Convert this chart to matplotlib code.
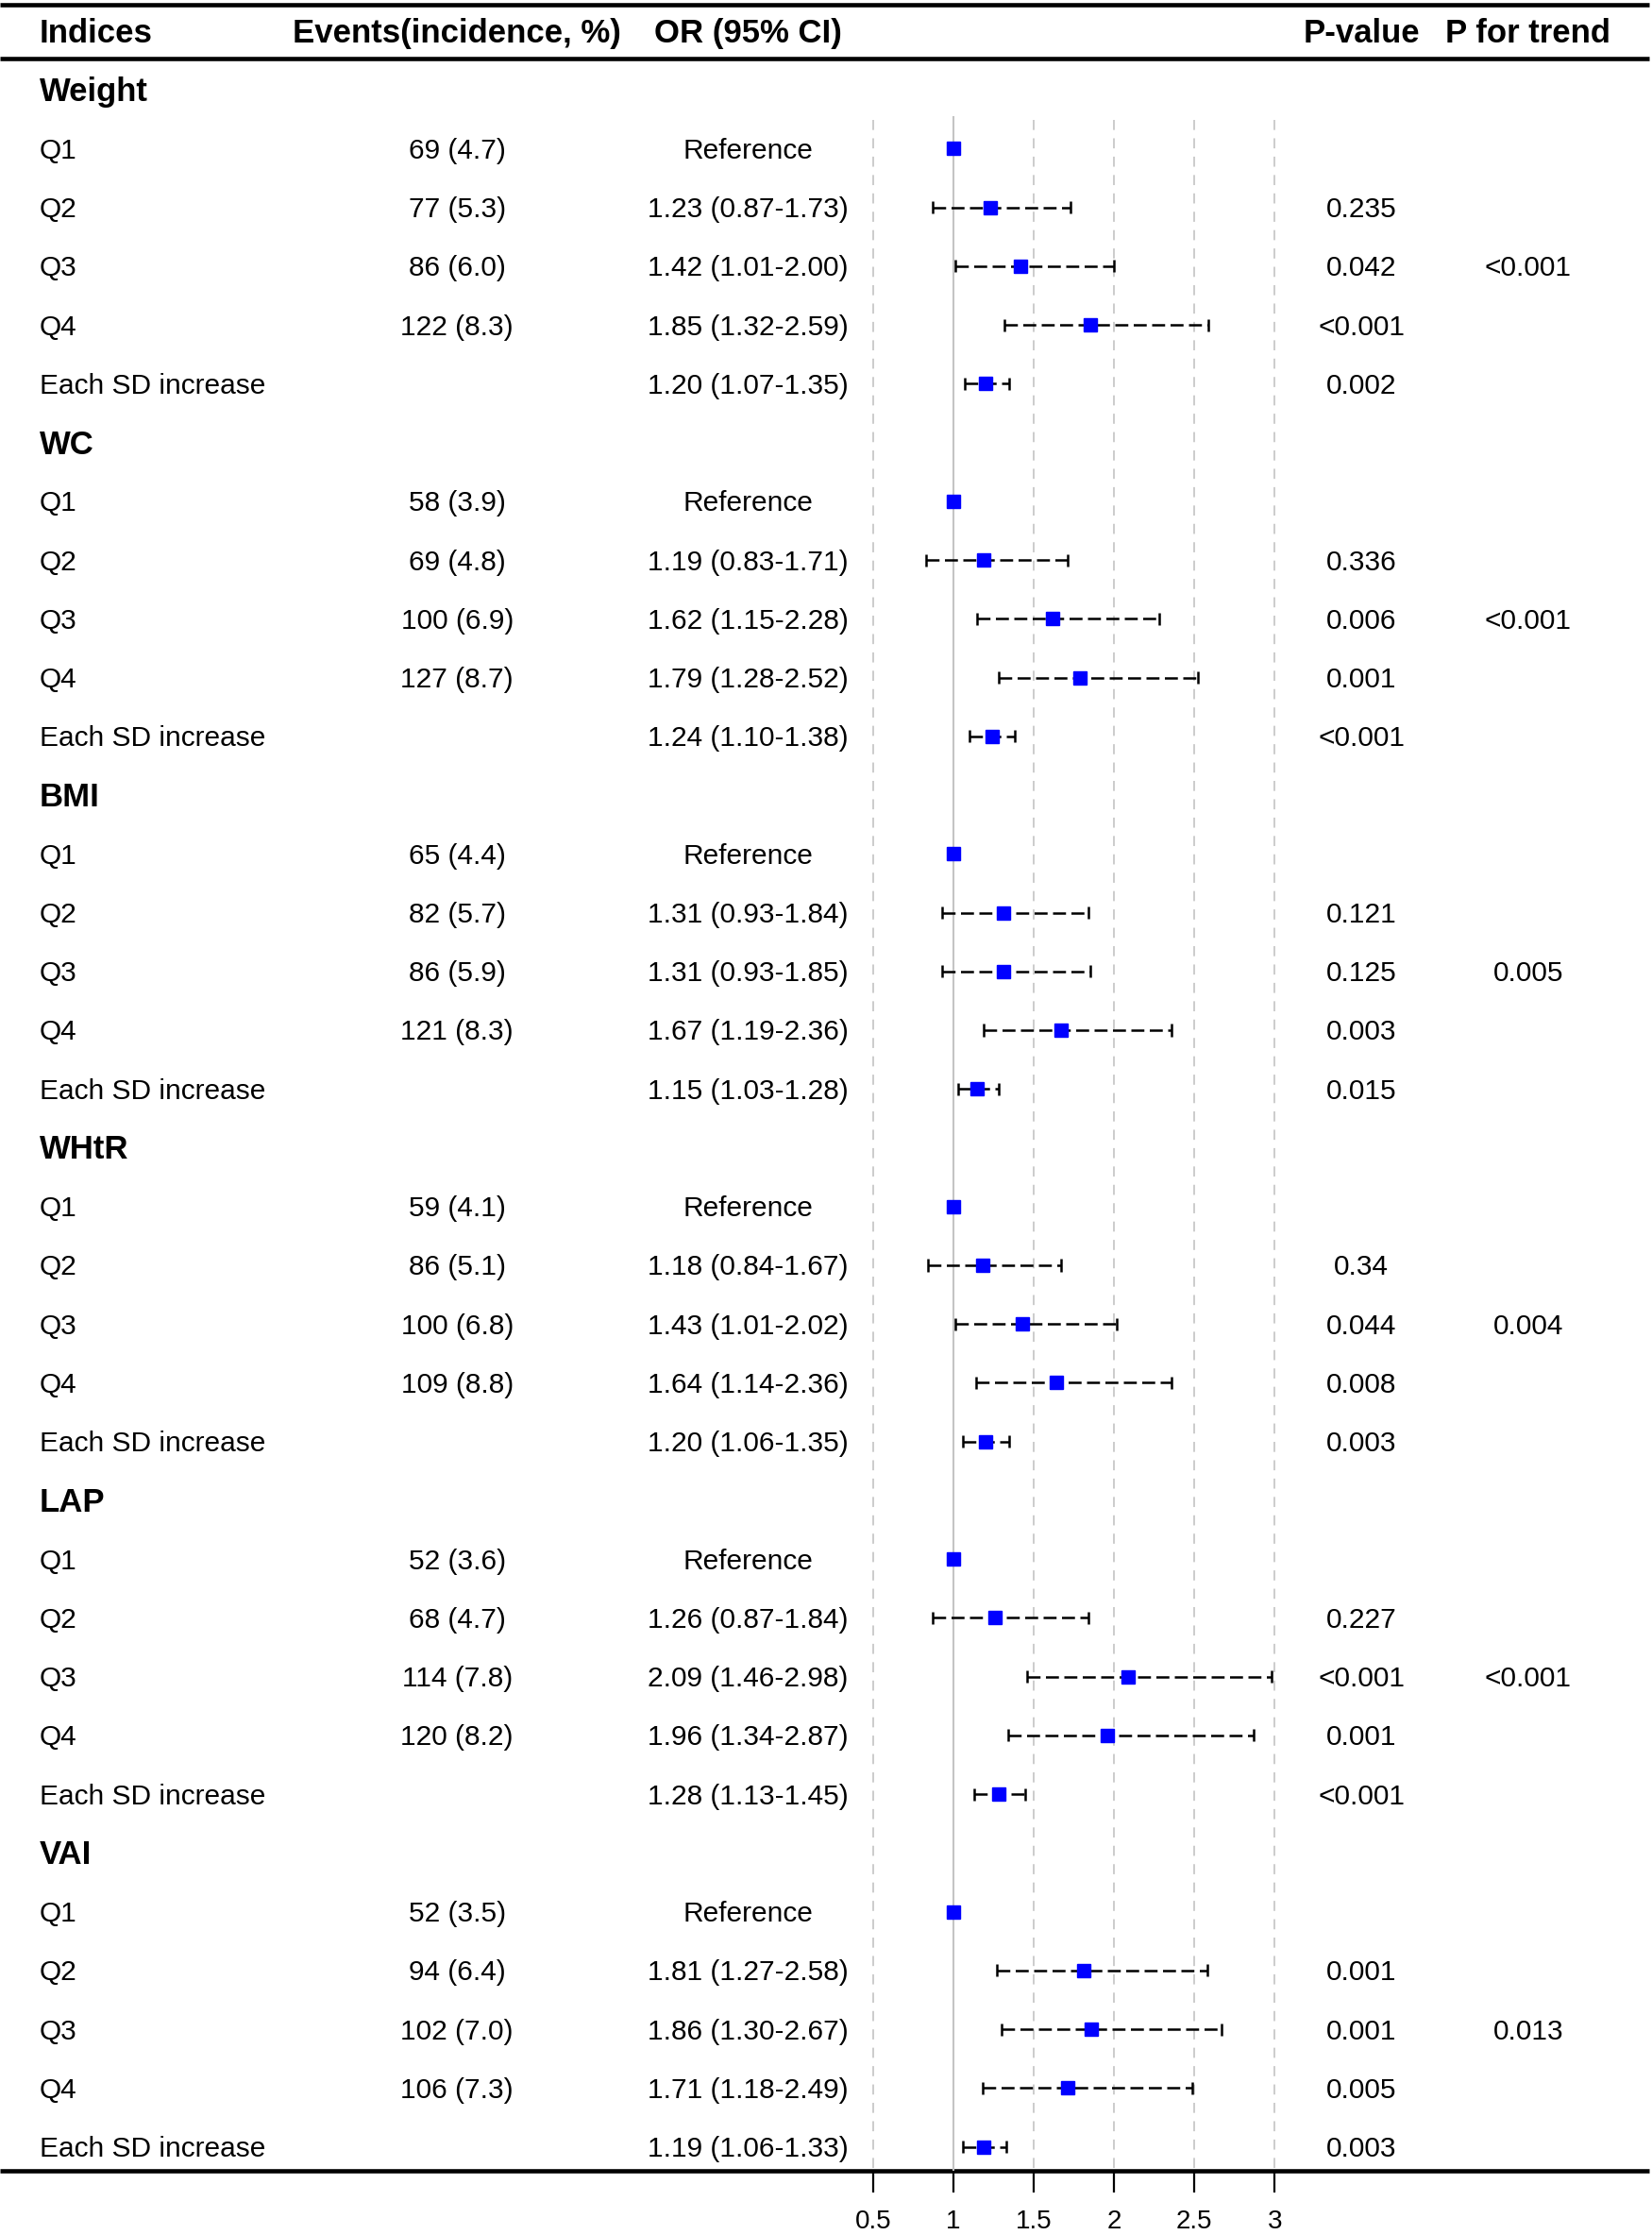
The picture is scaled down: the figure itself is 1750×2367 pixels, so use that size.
import matplotlib
matplotlib.use('Agg')

import matplotlib.pyplot as plt
import numpy as np

plt.rcParams['font.family'] = ['Liberation Sans', 'DejaVu Sans']

# datos de la tabla
indices = ['Weight', 'WC', 'BMI', 'WHtR', 'LAP', 'VAI']
niveles = ['Q1', 'Q2', 'Q3', 'Q4', 'Each SD increase']

eventos = [[69, 77, 86, 122], [58, 69, 100, 127], [65, 82, 86, 121],
           [59, 86, 100, 109], [52, 68, 114, 120], [52, 94, 102, 106]]
incidencia = [[4.7, 5.3, 6.0, 8.3], [3.9, 4.8, 6.9, 8.7], [4.4, 5.7, 5.9, 8.3],
              [4.1, 5.1, 6.8, 8.8], [3.6, 4.7, 7.8, 8.2], [3.5, 6.4, 7.0, 7.3]]

# OR para Q2, Q3, Q4 y cada SD (Q1 = referencia)
or_est = [[1.23, 1.42, 1.85, 1.20], [1.19, 1.62, 1.79, 1.24], [1.31, 1.31, 1.67, 1.15],
          [1.18, 1.43, 1.64, 1.20], [1.26, 2.09, 1.96, 1.28], [1.81, 1.86, 1.71, 1.19]]
or_lo = [[0.87, 1.01, 1.32, 1.07], [0.83, 1.15, 1.28, 1.10], [0.93, 0.93, 1.19, 1.03],
         [0.84, 1.01, 1.14, 1.06], [0.87, 1.46, 1.34, 1.13], [1.27, 1.30, 1.18, 1.06]]
or_hi = [[1.73, 2.00, 2.59, 1.35], [1.71, 2.28, 2.52, 1.38], [1.84, 1.85, 2.36, 1.28],
         [1.67, 2.02, 2.36, 1.35], [1.84, 2.98, 2.87, 1.45], [2.58, 2.67, 2.49, 1.33]]
p_valor = [['0.235', '0.042', '<0.001', '0.002'], ['0.336', '0.006', '0.001', '<0.001'],
           ['0.121', '0.125', '0.003', '0.015'], ['0.34', '0.044', '0.008', '0.003'],
           ['0.227', '<0.001', '0.001', '<0.001'], ['0.001', '0.001', '0.005', '0.003']]
p_tendencia = ['<0.001', '<0.001', '0.005', '0.004', '<0.001', '0.013']

ticks_x = [0.5, 1, 1.5, 2, 2.5, 3]

# posiciones de columnas (fracción del ancho)
x_ind = 0.024
x_evt = 0.2767
x_or = 0.4526
x_p = 0.824
x_tr = 0.925

fs = 21.5
fs_b = 25
dy = 0.04  # pequeño ajuste vertical del texto

fig = plt.figure(figsize=(17.5, 23.67), dpi=100)
tab = fig.add_axes([0, 0, 1, 1])
tab.set_xlim(0, 1)
y_top, y_bot = -1.528, 36.5
tab.set_ylim(y_bot, y_top)
tab.axis('off')

fst = fig.add_axes([590 / 1160, 0, 320 / 1160, 1])
fst.set_xlim(0.296, 3.133)
fst.set_ylim(y_bot, y_top)
fst.axis('off')

n_filas = len(indices) * (len(niveles) + 1)
y_final = n_filas - 1 + 0.41

# encabezado
for x, txt in [(x_evt, 'Events(incidence, %)'), (x_or, 'OR (95% CI)'),
               (x_p, 'P-value'), (x_tr, 'P for trend')]:
    tab.text(x, -1 + dy, txt, fontsize=fs_b, fontweight='bold', va='center', ha='center')
tab.text(x_ind, -1 + dy, 'Indices', fontsize=fs_b, fontweight='bold', va='center', ha='left')

tab.hlines([-1.455, -0.534, y_final], 0, 0.998, color='black', lw=3.3)

# líneas guía
for t in ticks_x:
    if t == 1:
        fst.vlines(t, 0.45, y_final, color='#c4c4c4', lw=1.5)
    else:
        fst.vlines(t, 0.51, y_final, color='#cccccc', lw=1.4, linestyles=(0, (5.5, 4.5)))

# marcas del eje
fst.vlines(ticks_x, y_final, y_final + 0.36, color='black', lw=1.6)
for t in ticks_x:
    fst.text(t, y_final + 0.87, f'{t:g}', fontsize=20, ha='center', va='center')

fila = 0
for g, nombre in enumerate(indices):
    tab.text(x_ind, fila + dy, nombre, fontsize=fs_b, fontweight='bold', va='center', ha='left')
    fila += 1
    for k, nivel in enumerate(niveles):
        yt = fila + dy
        tab.text(x_ind, yt, nivel, fontsize=fs, va='center', ha='left')
        if k < 4:
            tab.text(x_evt, yt, f'{eventos[g][k]} ({incidencia[g][k]:.1f})',
                     fontsize=fs, va='center', ha='center')
        if k == 0:
            tab.text(x_or, yt, 'Reference', fontsize=fs, va='center', ha='center')
            fst.plot(1, fila, 's', color='#0000ff', ms=9.5)
        else:
            e, lo, hi = or_est[g][k - 1], or_lo[g][k - 1], or_hi[g][k - 1]
            tab.text(x_or, yt, f'{e:.2f} ({lo:.2f}-{hi:.2f})', fontsize=fs, va='center', ha='center')
            tab.text(x_p, yt, p_valor[g][k - 1], fontsize=fs, va='center', ha='center')
            fst.hlines(fila, lo, hi, color='black', lw=1.8, linestyles=(0, (5.5, 2.3)))
            fst.vlines([lo, hi], fila - 0.105, fila + 0.105, color='black', lw=1.8)
            fst.plot(e, fila, 's', color='#0000ff', ms=9.5)
        if k == 2:
            tab.text(x_tr, yt, p_tendencia[g], fontsize=fs, va='center', ha='center')
        fila += 1

fig.savefig('out.png', dpi=100)
